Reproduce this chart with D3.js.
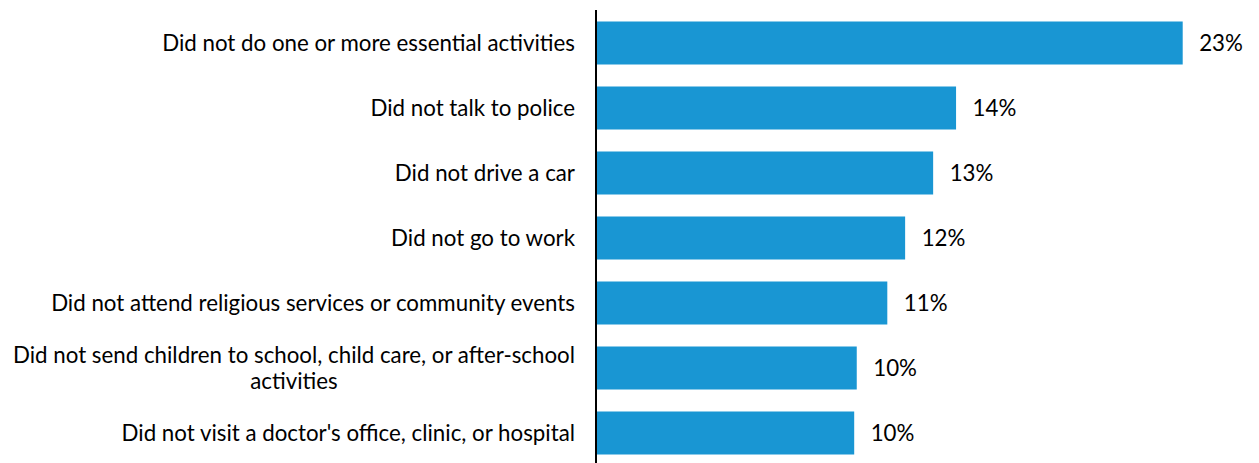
<!DOCTYPE html>
<html>
<head>
<meta charset="utf-8">
<script src="https://cdn.jsdelivr.net/npm/d3@7"></script>
<style>
  html, body { margin: 0; padding: 0; background: #fff; }
  svg { display: block; font-family: Lato, "Open Sans", sans-serif; }
</style>
</head>
<body>
<svg id="chart" width="1259" height="463"></svg>
<script>
// Share of respondents who avoided each activity (percent)
const categories = [
  "Did not do one or more essential activities",
  "Did not talk to police",
  "Did not drive a car",
  "Did not go to work",
  "Did not attend religious services or community events",
  "Did not send children to school, child care, or after-school activities",
  "Did not visit a doctor's office, clinic, or hospital"
];
const values = [23.0, 14.1, 13.2, 12.1, 11.4, 10.2, 10.1];

const width = 1259, height = 463;
const margin = { top: 10, right: 76, bottom: 0, left: 597 };
const barColor = "#1996d3";
const fontSize = 22.3;

const svg = d3.select("#chart");

const x = d3.scaleLinear()
  .domain([0, 23])
  .range([margin.left, 1182.7]);

const y = d3.scaleBand()
  .domain(categories)
  .range([margin.top + 0.5, margin.top + 0.5 + 65 * categories.length])
  .paddingInner(22 / 65)
  .paddingOuter(11 / 65);

// Bars
svg.append("g")
  .selectAll("rect")
  .data(values)
  .join("rect")
  .attr("x", x(0))
  .attr("y", (d, i) => y(categories[i]))
  .attr("width", d => x(d) - x(0))
  .attr("height", y.bandwidth())
  .attr("fill", barColor);

// Value labels
const fmt = v => d3.format(".0f")(v) + "%";
svg.append("g")
  .selectAll("text")
  .data(values)
  .join("text")
  .attr("x", d => x(d) + 16.5)
  .attr("y", (d, i) => y(categories[i]) + y.bandwidth() / 2)
  .attr("dy", "0.35em")
  .attr("font-size", fontSize)
  .attr("fill", "#000")
  .text(fmt);

// Category axis (left), labels wrapped and right-aligned
const labelRight = 575;
const maxLabelWidth = 575;
const labels = svg.append("g");
categories.forEach(cat => {
  const cy = y(cat) + y.bandwidth() / 2;
  const t = labels.append("text")
    .attr("font-size", fontSize)
    .attr("fill", "#000");
  // split into lines that fit the available width
  const words = cat.split(/\s+/);
  const lines = [];
  let line = [];
  const probe = t.append("tspan");
  words.forEach(w => {
    line.push(w);
    probe.text(line.join(" "));
    if (probe.node().getComputedTextLength() > maxLabelWidth && line.length > 1) {
      line.pop();
      lines.push(line.join(" "));
      line = [w];
    }
  });
  lines.push(line.join(" "));
  probe.remove();

  const lh = 25.5;
  if (lines.length === 1) {
    t.attr("text-anchor", "end")
      .attr("x", labelRight)
      .attr("y", cy)
      .attr("dy", "0.35em")
      .text(lines[0]);
  } else {
    // block right-aligned, lines centred within it
    const widths = lines.map(l => {
      const s = t.append("tspan").text(l);
      const w = s.node().getComputedTextLength();
      s.remove();
      return w;
    });
    const blockW = d3.max(widths);
    const cx = labelRight - blockW / 2;
    t.attr("text-anchor", "middle");
    lines.forEach((l, i) => {
      t.append("tspan")
        .attr("x", cx)
        .attr("y", cy + (i - (lines.length - 1) / 2) * lh)
        .attr("dy", "0.35em")
        .text(l);
    });
  }
});

// Vertical baseline
svg.append("line")
  .attr("x1", 596)
  .attr("x2", 596)
  .attr("y1", margin.top)
  .attr("y2", height)
  .attr("stroke", "#000")
  .attr("stroke-width", 2);
</script>
</body>
</html>
